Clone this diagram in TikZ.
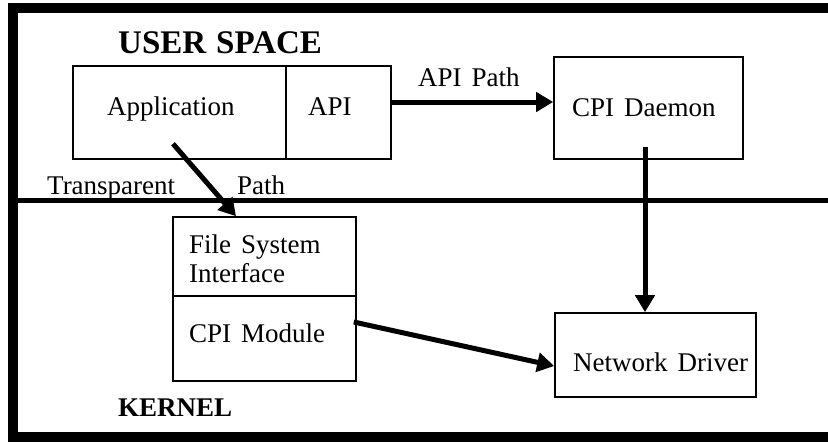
\documentclass[tikz,border=0pt]{standalone}
\usepackage{fontspec}
\setmainfont{Liberation Serif}
\usetikzlibrary{arrows.meta}
\tikzstyle{block}=[rectangle, draw, line width=1.6pt, inner sep=0pt]
\tikzstyle{word}=[anchor=base west, inner sep=0pt,
    execute at begin node=\spaceskip10pt\relax]
\newcommand{\block}{\node[block]}
\newcommand{\word}{\node[word]}

\begin{document}
\begin{tikzpicture}[x=1pt, y=-1pt
    ,every node/.style={font=\fontsize{27}{31}\selectfont}
    ,every edge/.style={draw, line width=5pt,
        -{Triangle[length=17pt,width=19pt]}}
]
\useasboundingbox (0,0) rectangle (828,442);
% frame and user/kernel border
\draw[line width=10pt] (13,8) rectangle (845,437);
\draw[line width=5pt] (13,200.5) -- (845,200.5);

\block (app) at (179.5,112.5) [minimum width=213pt, minimum height=93pt] {};
\block (api) at (338.5,112.5) [minimum width=105pt, minimum height=93pt] {};
\block (daemon) at (648.5,108) [minimum width=189pt, minimum height=102pt] {};
\block (fsi) at (264.5,256.5) [minimum width=183pt, minimum height=79pt] {};
\block (module) at (264.5,338.5) [minimum width=183pt, minimum height=85pt] {};
\block (netdrv) at (655.5,355) [minimum width=201pt, minimum height=84pt] {};

\word (userspace) at (118,53) {\fontsize{33}{37}\selectfont\bfseries USER SPACE};
\word (kernel) at (118,416) {\bfseries KERNEL};
\word (app-t) at (107,115) {Application};
\word (api-t) at (308,115) {API};
\word (daemon-t) at (572,116) {CPI Daemon};
\word (fsi-t) at (189,253) {File System};
\word (fsi-t2) at (189,282) {Interface};
\word (module-t) at (189,342) {CPI Module};
\word (netdrv-t) at (573,371) {Network Driver};
\word (apipath) at (418,86) {API Path};
\word (transp) at (47,194) {Transparent};
\word (transp2) at (237,194) {Path};

\path
([yshift=10.5pt]api.east) edge ([yshift=6pt]daemon.west)
([xshift=-6.5pt,yshift=16pt]app.south) edge ([xshift=-28.5pt]fsi.north)
([xshift=-3.5pt,yshift=13pt]daemon.south) edge ([xshift=-10.5pt]netdrv.north)
([xshift=-3pt,yshift=16.5pt]module.east) edge ([yshift=-11pt]netdrv.west)
;
\end{tikzpicture}
\end{document}
